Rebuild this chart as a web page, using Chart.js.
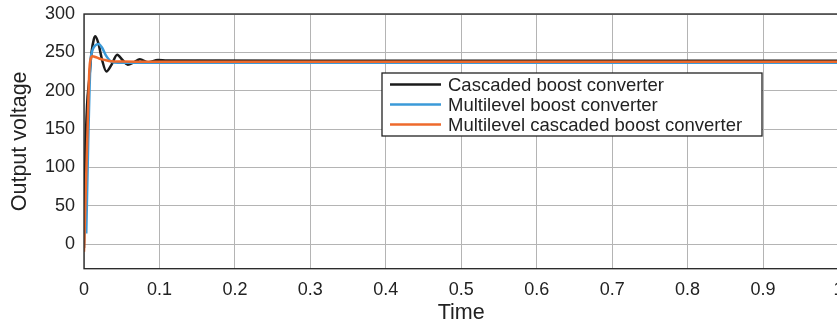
<!DOCTYPE html>
<html>
<head>
<meta charset="utf-8">
<script src="https://cdn.jsdelivr.net/npm/chart.js@4.4.0/dist/chart.umd.min.js"></script>
<style>
    html, body { margin: 0; padding: 0; background: #fff; }
    #wrap { width: 837px; height: 327px; overflow: hidden; }
    #wrap canvas { display: block; }
</style>
</head>
<body>
<div id="wrap"><canvas id="chart" width="850" height="327"></canvas></div>
<script>
// values
const seriesNames = ['Cascaded boost converter', 'Multilevel boost converter', 'Multilevel cascaded boost converter'];

const cascadedTime = [0, 0.002, 0.004, 0.007, 0.010, 0.013, 0.015, 0.019, 0.024, 0.0296, 0.036, 0.044, 0.051, 0.058, 0.066, 0.074, 0.085, 0.098, 0.110, 0.300, 1.0];
const cascadedVolt = [-5, 120, 180, 215, 250, 267, 271, 262, 240, 225, 233, 247, 240, 234, 237, 241, 237, 240, 239.5, 239, 239];

const multilevelTime = [0.003, 0.0055, 0.0085, 0.011, 0.015, 0.0195, 0.024, 0.029, 0.036, 0.045, 0.100, 1.0];
const multilevelVolt = [14, 130, 235, 252, 259, 261, 256, 246, 238, 236.5, 236.5, 236.5];

const mlCascadedTime = [0, 0.0025, 0.005, 0.007, 0.009, 0.0115, 0.015, 0.020, 0.028, 0.036, 0.050, 0.070, 1.0];
const mlCascadedVolt = [-10, 75, 160, 225, 242, 245, 244, 242, 240, 238.5, 238, 237.8, 237.8];

const yTicks = [0, 50, 100, 150, 200, 250, 300];

function toPoints(ts, vs) {
    return ts.map((t, i) => ({x: t, y: vs[i]}));
}

const fontFamily = '"Liberation Sans", Arial, Helvetica, sans-serif';
const colors = ['#1b1b1b', '#3b9ad8', '#ee6a2c'];

function noOverflow(scale) {
    scale.paddingLeft = 0;
    scale.paddingRight = 0;
    scale.paddingTop = 0;
    scale.paddingBottom = 0;
}

const legendBox = {
    id: 'legendBox',
    afterDraw(chart) {
        const ctx = chart.ctx;
        const a = chart.chartArea;
        // plot frame
        ctx.save();
        ctx.strokeStyle = '#222';
        ctx.lineWidth = 1.3;
        ctx.strokeRect(a.left, a.top, a.right - a.left, a.bottom - a.top);
        // legend
        const x0 = a.left + 298, y0 = a.top + 59, w = 380, h = 63;
        ctx.fillStyle = '#fff';
        ctx.fillRect(x0, y0, w, h);
        ctx.strokeStyle = '#222';
        ctx.lineWidth = 1.3;
        ctx.strokeRect(x0, y0, w, h);
        ctx.font = '18.5px ' + fontFamily;
        ctx.textBaseline = 'middle';
        seriesNames.forEach((name, i) => {
            const y = y0 + 11.5 + i * 20;
            ctx.strokeStyle = colors[i];
            ctx.lineWidth = 2.5;
            ctx.beginPath();
            ctx.moveTo(x0 + 8, y);
            ctx.lineTo(x0 + 59, y);
            ctx.stroke();
            ctx.fillStyle = '#222';
            ctx.fillText(name, x0 + 66, y + 1);
        });
        ctx.restore();
    }
};

new Chart(document.getElementById('chart'), {
    type: 'line',
    data: {
        datasets: [{
            label: seriesNames[0],
            data: toPoints(cascadedTime, cascadedVolt),
            borderColor: colors[0],
            order: 2
        }, {
            label: seriesNames[1],
            data: toPoints(multilevelTime, multilevelVolt),
            borderColor: colors[1],
            order: 1
        }, {
            label: seriesNames[2],
            data: toPoints(mlCascadedTime, mlCascadedVolt),
            borderColor: colors[2],
            order: 0
        }]
    },
    options: {
        responsive: false,
        animation: false,
        events: [],
        parsing: true,
        elements: {
            point: {radius: 0},
            line: {borderWidth: 2.5, cubicInterpolationMode: 'monotone', fill: false}
        },
        layout: {padding: {left: 0, right: 11.5, top: 14, bottom: 0}},
        scales: {
            x: {
                type: 'linear',
                min: 0,
                max: 1,
                afterFit: (scale) => { scale.height = 58.3; noOverflow(scale); },
                ticks: {
                    stepSize: 0.1,
                    padding: 11,
                    color: '#222',
                    font: {family: fontFamily, size: 18},
                    maxRotation: 0,
                    callback: (v) => Number(v.toFixed(1)).toString()
                },
                grid: {color: '#b4b4b4', lineWidth: 1, drawTicks: false},
                border: {display: false},
                title: {
                    display: true,
                    text: 'Time',
                    color: '#222',
                    font: {family: fontFamily, size: 21.5},
                    padding: {top: 0, bottom: 1}
                }
            },
            y: {
                type: 'linear',
                min: -32,
                max: 300,
                afterFit: (scale) => { scale.width = 84; noOverflow(scale); },
                afterBuildTicks: (scale) => {
                    scale.ticks = yTicks.map(v => ({value: v}));
                },
                ticks: {
                    padding: 9,
                    color: '#222',
                    font: {family: fontFamily, size: 18}
                },
                grid: {color: '#b4b4b4', lineWidth: 1, drawTicks: false},
                border: {display: false},
                title: {
                    display: true,
                    text: 'Output voltage',
                    color: '#222',
                    font: {family: fontFamily, size: 21.5},
                    padding: {top: 7, bottom: 0}
                }
            }
        },
        plugins: {
            legend: {display: false},
            tooltip: {enabled: false}
        }
    },
    plugins: [legendBox]
});
</script>
</body>
</html>
